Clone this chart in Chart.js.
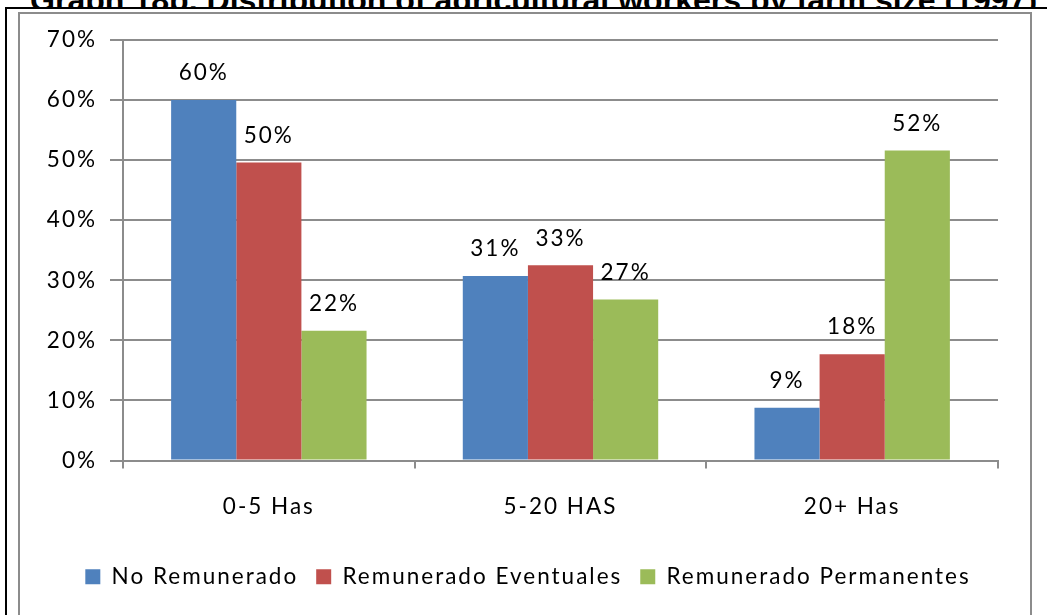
<!DOCTYPE html>
<html>
<head>
<meta charset="utf-8">
<script src="https://cdn.jsdelivr.net/npm/chart.js@4/dist/chart.umd.min.js"></script>
<style>
  html, body { margin: 0; padding: 0; background: #fff; }
  body { width: 1047px; height: 615px; position: relative; overflow: hidden; }
  #title {
    position: absolute; left: 30px; top: -16px; white-space: nowrap;
    font: bold 27px "Liberation Sans", Arial, sans-serif; line-height: 1; color: #000;
  }
  #outer {
    position: absolute; left: 5px; top: 7px; width: 1100px; height: 700px;
    border-left: 2px solid #000; border-top: 2px solid #000; background: #fff;
  }
  #inner {
    position: absolute; left: 18px; top: 12px; width: 1010px; height: 700px;
    border: 2px solid #8c8c8c; background: #fff;
  }
  #chart { position: absolute; left: 0; top: 0; }
</style>
</head>
<body>
<div id="title">Graph 18b. Distribution of agricultural workers by farm size (1997)</div>
<div id="outer"></div>
<div id="inner"></div>
<canvas id="chart" width="1047" height="615"></canvas>
<script>
(function () {
    'use strict';

    const categories = ['0-5 Has', '5-20 HAS', '20+ Has'];
    const seriesNames = ['No Remunerado', 'Remunerado Eventuales', 'Remunerado Permanentes'];
    const noRemunerado = [60, 30.7, 8.8];
    const eventuales = [49.6, 32.5, 17.7];
    const permanentes = [21.6, 26.8, 51.6];
    const yTicks = [0, 10, 20, 30, 40, 50, 60, 70];

    const colors = ['#4F81BD', '#C0504D', '#9BBB59'];
    const gridColor = '#8c8c8c';
    const font = { family: 'Lato, "Open Sans", sans-serif', size: 22.5 };
    const spacing = '2px';

    // fit the (cropped) title across the frame
    const title = document.getElementById('title');
    const want = 1008;
    const w = title.getBoundingClientRect().width;
    title.style.fontSize = (27 * want / w).toFixed(2) + 'px';

    const spacingPlugin = {
        id: 'spacing',
        beforeUpdate(chart) { chart.ctx.letterSpacing = spacing; },
        beforeDraw(chart) { chart.ctx.letterSpacing = spacing; }
    };

    // legend sits a bit right of the plot centre in the original
    const legendShift = {
        id: 'legendShift',
        afterLayout(chart) {
            chart.legend.left += 19;
            chart.legend.right += 19;
        }
    };

    const valueLabels = {
        id: 'valueLabels',
        afterDatasetsDraw(chart) {
            const ctx = chart.ctx;
            ctx.save();
            ctx.font = font.size + 'px ' + font.family;
            ctx.fillStyle = '#000';
            ctx.textAlign = 'center';
            ctx.textBaseline = 'middle';
            chart.data.datasets.forEach((ds, i) => {
                chart.getDatasetMeta(i).data.forEach((bar, j) => {
                    ctx.fillText(Math.round(ds.data[j]) + '%', bar.x, bar.y - 27);
                });
            });
            ctx.restore();
        }
    };

    const ctx = document.getElementById('chart');
    new Chart(ctx, {
        type: 'bar',
        data: {
            labels: categories,
            datasets: [noRemunerado, eventuales, permanentes].map((d, i) => ({
                label: seriesNames[i],
                data: d,
                backgroundColor: colors[i],
                borderWidth: 0,
                barPercentage: 1,
                categoryPercentage: 0.67
            }))
        },
        options: {
            responsive: false,
            animation: false,
            events: [],
            layout: { padding: { left: 20, right: 49, top: 40, bottom: 17 } },
            plugins: {
                tooltip: { enabled: false },
                legend: {
                    position: 'bottom',
                    labels: {
                        boxWidth: 15, boxHeight: 15, padding: 18,
                        color: '#000', font: font
                    }
                }
            },
            scales: {
                x: {
                    afterFit(s) { s.height = 87; },
                    grid: { drawOnChartArea: false, tickLength: 8, color: gridColor, lineWidth: 2 },
                    border: { color: gridColor, width: 2 },
                    ticks: { color: '#000', font: font, padding: 25 }
                },
                y: {
                    min: 0, max: 70,
                    afterFit(s) { s.width = 103; },
                    afterBuildTicks(s) { s.ticks = yTicks.map(v => ({ value: v })); },
                    grid: { color: gridColor, lineWidth: 2, tickLength: 13 },
                    border: { color: gridColor, width: 2 },
                    ticks: { color: '#000', font: font, padding: 13, callback: v => v + '%' }
                }
            }
        },
        plugins: [spacingPlugin, legendShift, valueLabels]
    });
})();
</script>
</body>
</html>
